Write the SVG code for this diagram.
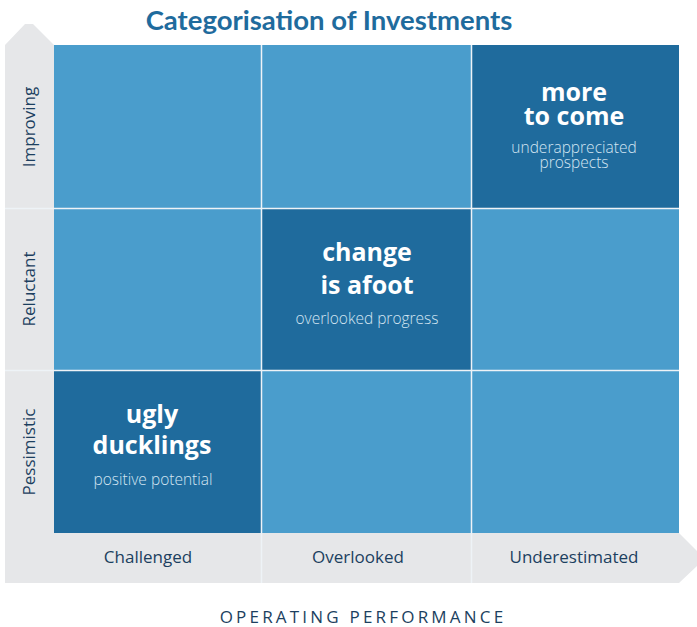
<svg xmlns="http://www.w3.org/2000/svg" width="697" height="627" viewBox="0 0 697 627">
<style>
.light{fill:#4a9dcc}
.dark{fill:#1f6b9d}
.band{fill:#e6e7e9}
.div{stroke:#eef3f7;stroke-width:1.5}
.head{font-family:"Open Sans","Liberation Sans",sans-serif;font-weight:700;fill:#ffffff;font-size:25px;text-anchor:middle}
.sub{font-family:"Open Sans","Liberation Sans",sans-serif;font-weight:300;fill:#d3e5f2;font-size:15.5px;text-anchor:middle}
.axis{font-family:"Open Sans","Liberation Sans",sans-serif;fill:#1c3f60;font-size:17px;text-anchor:middle}
</style>
<rect width="697" height="627" fill="#ffffff"/>
<g id="title">
<text x="329" y="30" font-family="Lato,'Liberation Sans',sans-serif" font-weight="700" font-size="27.5" fill="#1f6b9d" text-anchor="middle">Categorisation of Investments</text>
</g>
<g id="axes-band">
<polygon class="band" points="5,45 25,24 33,24 54,45 54,533 679,533 697,551 697,566 679,583 5,583"/>
</g>
<g id="cells">
<g id="cell-r1c1"><rect class="light" x="54" y="45" width="207" height="163"/></g>
<g id="cell-r1c2"><rect class="light" x="261" y="45" width="210" height="163"/></g>
<g id="cell-r1c3"><rect class="dark" x="471" y="45" width="208" height="163"/>
<text class="head" x="574" y="101">more</text>
<text class="head" x="574" y="125">to come</text>
<text class="sub" x="574" y="153">underappreciated</text>
<text class="sub" x="574" y="168">prospects</text></g>
<g id="cell-r2c1"><rect class="light" x="54" y="208" width="207" height="162"/></g>
<g id="cell-r2c2"><rect class="dark" x="261" y="208" width="210" height="162"/>
<text class="head" x="367" y="261">change</text>
<text class="head" x="367" y="294">is afoot</text>
<text class="sub" x="367" y="324">overlooked progress</text></g>
<g id="cell-r2c3"><rect class="light" x="471" y="208" width="208" height="162"/></g>
<g id="cell-r3c1"><rect class="dark" x="54" y="370" width="207" height="163"/>
<text class="head" x="152" y="423">ugly</text>
<text class="head" x="152" y="454">ducklings</text>
<text class="sub" x="153" y="485">positive potential</text></g>
<g id="cell-r3c2"><rect class="light" x="261" y="370" width="210" height="163"/></g>
<g id="cell-r3c3"><rect class="light" x="471" y="370" width="208" height="163"/></g>
</g>
<g id="dividers">
<line class="div" x1="5" y1="208.5" x2="679" y2="208.5"/>
<line class="div" x1="5" y1="370.5" x2="679" y2="370.5"/>
<line class="div" x1="261.5" y1="45" x2="261.5" y2="583"/>
<line class="div" x1="471.5" y1="45" x2="471.5" y2="583"/>
</g>
<g id="y-labels">
<text class="axis" font-size="14.5" transform="translate(35,127) rotate(-90)">Improving</text>
<text class="axis" font-size="14.5" transform="translate(35,289) rotate(-90)">Reluctant</text>
<text class="axis" font-size="14.5" transform="translate(35,452) rotate(-90)">Pessimistic</text>
</g>
<g id="x-labels">
<text class="axis" x="148" y="563">Challenged</text>
<text class="axis" x="358" y="563">Overlooked</text>
<text class="axis" x="574" y="563">Underestimated</text>
<text class="axis" x="363" y="623" fill="#1b3a57" font-size="17" letter-spacing="3.2">OPERATING PERFORMANCE</text>
</g>
</svg>
